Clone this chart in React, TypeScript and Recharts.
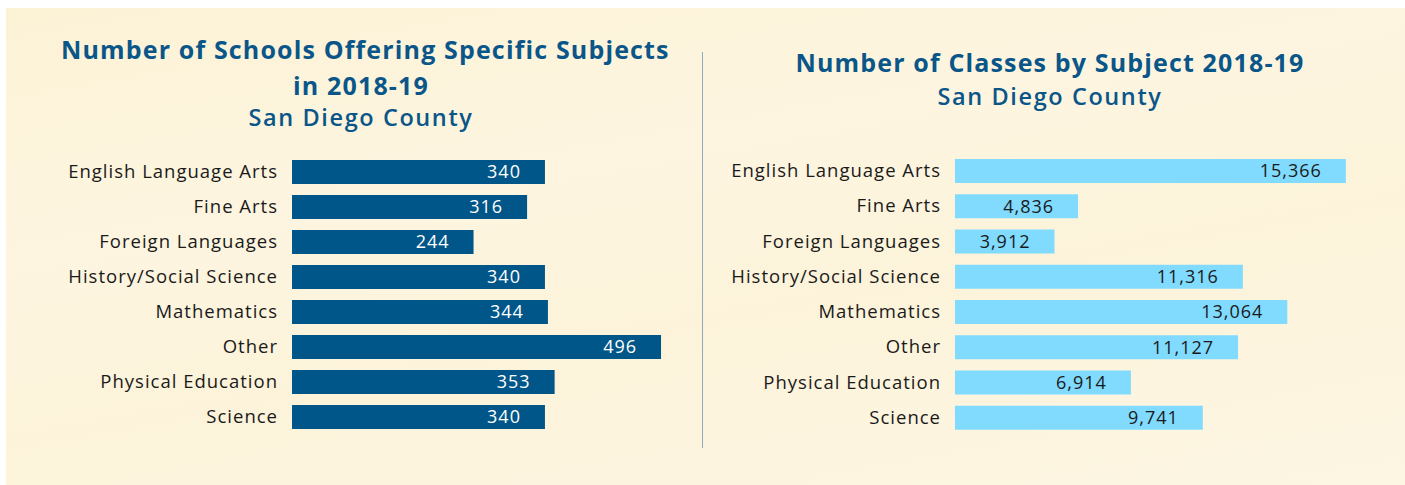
import { BarChart, Bar, XAxis, YAxis, LabelList } from "recharts"

const subjects = [
  "English Language Arts",
  "Fine Arts",
  "Foreign Languages",
  "History/Social Science",
  "Mathematics",
  "Other",
  "Physical Education",
  "Science",
]
const schoolCounts = [340, 316, 244, 340, 344, 496, 353, 340]
const classCounts = [15366, 4836, 3912, 11316, 13064, 11127, 6914, 9741]

const schoolsData = subjects.map((s, i) => ({ subject: s, value: schoolCounts[i] }))
const classesData = subjects.map((s, i) => ({ subject: s, value: classCounts[i] }))

const FONT = "'Open Sans', Lato, sans-serif"
const TITLE_COLOR = "#0a5689"

const titleStyle: React.CSSProperties = {
  position: "absolute",
  textAlign: "center",
  color: TITLE_COLOR,
  fontFamily: FONT,
  fontWeight: 700,
  fontSize: 25,
  whiteSpace: "nowrap",
  letterSpacing: 1.15,
}

const subStyle: React.CSSProperties = {
  fontSize: 23.5,
  fontWeight: 600,
  letterSpacing: 1.6,
}

const tickStyle = { fill: "#1a1a1a", fontSize: 18.5, fontFamily: FONT, letterSpacing: 1 }
const valueStyle = { fontSize: 18, fontFamily: FONT, letterSpacing: 1 }

export default function App() {
  return (
    <div style={{ position: "fixed", left: 0, top: 0, width: 1405, height: 485, background: "#fff" }}>
      <div
        style={{
          position: "absolute",
          left: 6,
          top: 8,
          width: 1399,
          height: 477,
          background: "linear-gradient(170deg, #fcf2d6 0%, #fdf5e0 35%, #fcf3da 60%, #fdf6e3 100%)",
        }}
      />

      <div style={{ ...titleStyle, left: 61, width: 600, top: 31, lineHeight: "36px" }}>
        Number of Schools Offering Specific Subjects
        <br />
        in 2018-19
        <div style={{ ...subStyle, lineHeight: "28px" }}>San Diego County</div>
      </div>

      <div style={{ ...titleStyle, left: 750, width: 600, top: 46, lineHeight: "32px" }}>
        Number of Classes by Subject 2018-19
        <div style={{ ...subStyle, lineHeight: "36px" }}>San Diego County</div>
      </div>

      <div style={{ position: "absolute", left: 702, top: 52, width: 1, height: 396, background: "#8eabbb" }} />

      <div style={{ position: "absolute", left: 0, top: 0 }}>
        <BarChart
          width={680}
          height={485}
          data={schoolsData}
          layout="vertical"
          margin={{ top: 154, right: 16, bottom: 51, left: 0 }}
        >
          <XAxis type="number" domain={[0, 500]} hide />
          <YAxis
            type="category"
            dataKey="subject"
            width={292}
            axisLine={false}
            tickLine={false}
            tickSize={6}
            tickMargin={8}
            tick={tickStyle}
            interval={0}
          />
          <Bar dataKey="value" fill="#015689" barSize={24} isAnimationActive={false}>
            <LabelList dataKey="value" position="insideRight" offset={24} fill="#ffffff" style={valueStyle} />
          </Bar>
        </BarChart>
      </div>

      <div style={{ position: "absolute", left: 700, top: 0 }}>
        <BarChart
          width={680}
          height={485}
          data={classesData}
          layout="vertical"
          margin={{ top: 153, right: 18, bottom: 50, left: 0 }}
        >
          <XAxis type="number" domain={[0, 16000]} hide />
          <YAxis
            type="category"
            dataKey="subject"
            width={255}
            axisLine={false}
            tickLine={false}
            tickSize={6}
            tickMargin={8}
            tick={tickStyle}
            interval={0}
          />
          <Bar dataKey="value" fill="#80dbff" barSize={24} isAnimationActive={false}>
            <LabelList
              dataKey="value"
              position="insideRight"
              offset={24}
              fill="#1a1a1a"
              formatter={(v: any) => Number(v).toLocaleString("en-US")}
              style={valueStyle}
            />
          </Bar>
        </BarChart>
      </div>
    </div>
  )
}
